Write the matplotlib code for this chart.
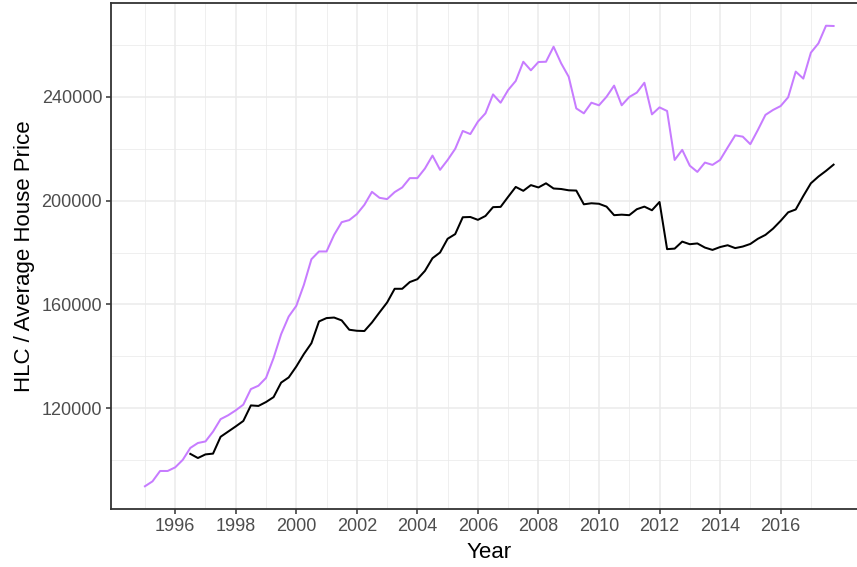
import numpy as np
import matplotlib
matplotlib.use("Agg")
import matplotlib.pyplot as plt
from matplotlib.ticker import FixedLocator

plt.rcParams['font.family'] = ['Liberation Sans', 'DejaVu Sans']

# Quarterly time axis
years_avg = np.arange(1995.0, 2017.76, 0.25)
avg_price = [
    89800, 91700, 95700, 95700, 97100, 100000, 104600, 106500,
    107100, 110900, 115700, 117200, 119100, 121300, 127300, 128600,
    131600, 139300, 148500, 155300, 159400, 167500, 177400, 180400,
    180400, 186800, 191700, 192500, 194800, 198400, 203400, 201100,
    200600, 203300, 205100, 208700, 208700, 212400, 217400, 211900,
    215700, 220000, 226900, 225700, 230500, 233700, 241000, 237800,
    242700, 246200, 253600, 250300, 253500, 253600, 259400, 253000,
    247800, 235600, 233700, 237800, 236800, 240100, 244400, 236800,
    240000, 241700, 245500, 233300, 236000, 234600, 215700, 219600,
    213500, 211100, 214700, 213800, 215700, 220500, 225200, 224700,
    221800, 227300, 233100, 235000, 236500, 239900, 249800, 247100,
    257100, 260700, 267500, 267400,
]

years_hlc = np.arange(1996.5, 2017.76, 0.25)
hlc_price = [
    102300, 100700, 102100, 102400, 108900, 110900, 112900, 115000,
    121000, 120800, 122300, 124200, 129800, 131800, 136000, 140800,
    145000, 153400, 154700, 154900, 153800, 150200, 149800, 149700,
    153000, 156900, 160700, 166000, 166000, 168600, 169700, 172900,
    177800, 180000, 185300, 187100, 193600, 193700, 192600, 194100,
    197500, 197600, 201500, 205300, 203800, 206000, 205100, 206700,
    204700, 204500, 204000, 203900, 198600, 199000, 198800, 197700,
    194400, 194600, 194400, 196700, 197700, 196300, 199500, 181300,
    181500, 184200, 183200, 183500, 181900, 181000, 182100, 182800,
    181700, 182300, 183300, 185300, 186800, 189200, 192200, 195500,
    196600, 201800, 206700, 209300, 211500, 213900,
]

x_major = [1996, 1998, 2000, 2002, 2004, 2006, 2008, 2010, 2012, 2014, 2016]
x_minor = [1995, 1997, 1999, 2001, 2003, 2005, 2007, 2009, 2011, 2013, 2015, 2017]
y_major = [120000, 160000, 200000, 240000]
y_minor = [100000, 140000, 180000, 220000, 260000]

W, H = 857, 567
fig = plt.figure(figsize=(W / 100, H / 100), dpi=100)
left, right = 110.5 / W, 868 / W
bottom, top = (H - 509.3) / H, 1 - 2.7 / H
ax = fig.add_axes([left, bottom, right - left, top - bottom])

ax.plot(years_avg, avg_price, color='#C77CFF', lw=1.45, zorder=3)
ax.plot(years_hlc, hlc_price, color='black', lw=1.45, zorder=3)

xmin, xmax = 1995.0, 2017.75
ex = (xmax - xmin) * 0.05
ax.set_xlim(xmin - ex, xmax + ex)
ymin, ymax = min(min(avg_price), min(hlc_price)), max(max(avg_price), max(hlc_price))
ey = (ymax - ymin) * 0.05
ax.set_ylim(ymin - ey, ymax + ey)

ax.xaxis.set_major_locator(FixedLocator(x_major))
ax.xaxis.set_minor_locator(FixedLocator(x_minor))
ax.yaxis.set_major_locator(FixedLocator(y_major))
ax.yaxis.set_minor_locator(FixedLocator(y_minor))
ax.set_xticklabels([str(v) for v in x_major])
ax.set_yticklabels([str(v) for v in y_major])

ax.grid(which='major', color='#EBEBEB', lw=1.1, zorder=0)
ax.grid(which='minor', color='#EBEBEB', lw=0.55, zorder=0)
ax.set_axisbelow(True)

for s in ax.spines.values():
    s.set_color('#333333')
    s.set_linewidth(1.3)

ax.tick_params(which='major', direction='out', length=3.5, width=1.1,
               color='#333333', labelcolor='#4D4D4D', labelsize=13, pad=2.5)
ax.tick_params(which='minor', length=0)

ax.set_xlabel('Year', fontsize=16, color='black', labelpad=5.5)
ax.set_ylabel('HLC / Average House Price', fontsize=16, color='black', labelpad=5)

fig.savefig('out.png', dpi=100)
